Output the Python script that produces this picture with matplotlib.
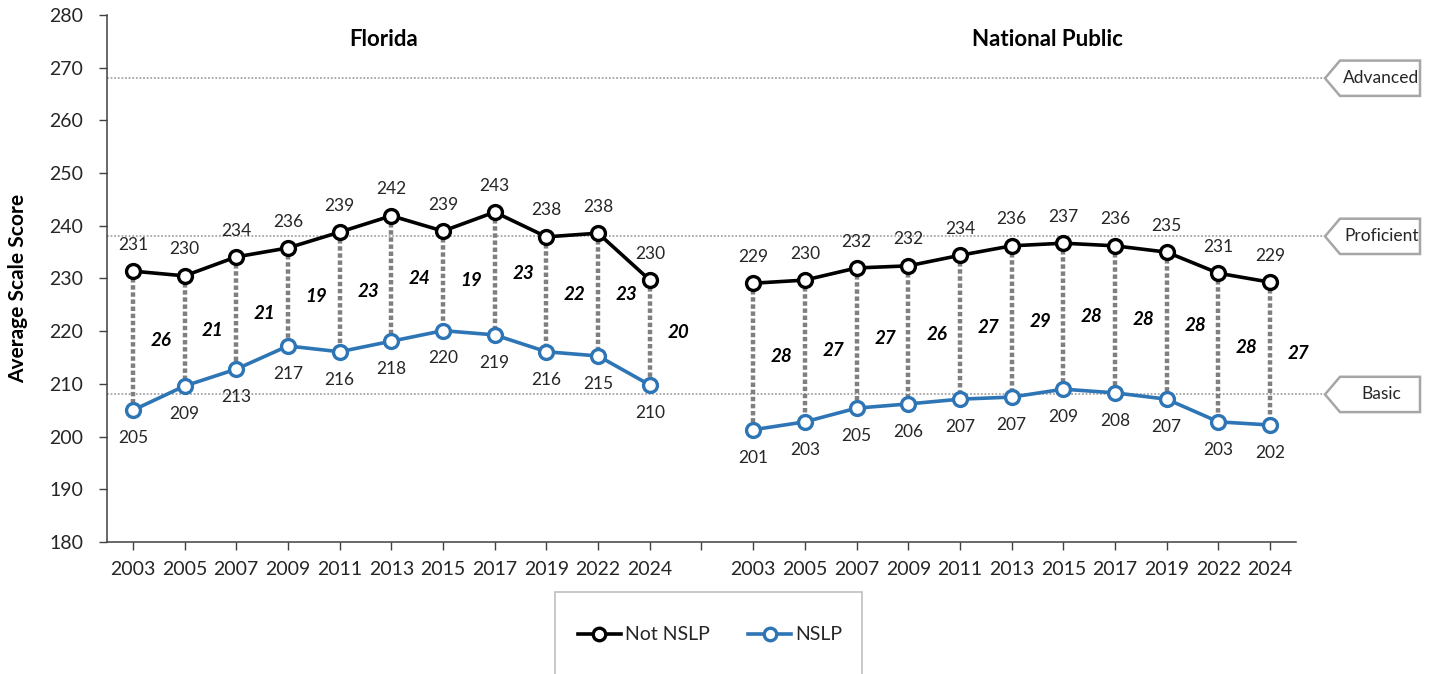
import matplotlib
matplotlib.use("Agg")
import matplotlib.pyplot as plt
from matplotlib.patches import Polygon, Rectangle
from matplotlib.lines import Line2D
import matplotlib.transforms as mtransforms

plt.rcParams['font.family'] = ['Lato', 'DejaVu Sans']

years = ["2003", "2005", "2007", "2009", "2011", "2013", "2015", "2017", "2019", "2022", "2024"]

fl_not_nslp = [231.4, 230.5, 234.1, 235.8, 238.8, 241.9, 239.0, 242.6, 237.9, 238.6, 229.7]
fl_nslp = [205.0, 209.6, 212.8, 217.2, 216.1, 218.1, 220.1, 219.3, 216.1, 215.3, 209.8]
fl_not_labels = [231, 230, 234, 236, 239, 242, 239, 243, 238, 238, 230]
fl_nslp_labels = [205, 209, 213, 217, 216, 218, 220, 219, 216, 215, 210]
fl_gaps = [26, 21, 21, 19, 23, 24, 19, 23, 22, 23, 20]

nat_not_nslp = [229.1, 229.7, 232.0, 232.4, 234.4, 236.2, 236.7, 236.2, 235.0, 231.0, 229.3]
nat_nslp = [201.3, 202.8, 205.4, 206.2, 207.1, 207.5, 209.0, 208.3, 207.1, 202.8, 202.2]
nat_not_labels = [229, 230, 232, 232, 234, 236, 237, 236, 235, 231, 229]
nat_nslp_labels = [201, 203, 205, 206, 207, 207, 209, 208, 207, 203, 202]
nat_gaps = [28, 27, 27, 26, 27, 29, 28, 28, 28, 28, 27]

panels = ["Florida", "National Public"]
levels = ["Advanced", "Proficient", "Basic"]
level_scores = [268, 238, 208]
yticks = [180, 190, 200, 210, 220, 230, 240, 250, 260, 270, 280]

BLACK = "#000000"
BLUE = "#2E75B6"
GRAY = "#7F7F7F"
TXT = "#262626"

W, H = 1430, 674
fig = plt.figure(figsize=(W / 100, H / 100), dpi=100)
ax = fig.add_axes([107 / W, 1 - 542 / H, (1296 - 107) / W, (542 - 15) / H])

ax.set_xlim(-0.5, 22.5)
ax.set_ylim(180, 280)

# reference level lines with callouts
trans_blend = mtransforms.blended_transform_factory(ax.transAxes, ax.transData)
for lev, sc in zip(levels, level_scores):
    ax.plot([0, 1.0244], [sc, sc], transform=trans_blend, color="#A6A6A6",
            linestyle=(0, (1, 1)), linewidth=1.3, clip_on=False, zorder=1)
    ymid = sc
    half = 3.35
    tip = 1.0244
    left = 1.0370
    right = 1.1043
    poly = Polygon([[tip, ymid], [left, ymid + half], [right, ymid + half],
                    [right, ymid - half], [left, ymid - half]], closed=True,
                   transform=trans_blend, facecolor="white", edgecolor="#A6A6A6",
                   linewidth=1.8, clip_on=False, zorder=3)
    ax.add_patch(poly)
    ax.text((left + right) / 2 + 0.001, ymid, lev, transform=trans_blend, ha="center",
            va="center", fontsize=12.5, color=TXT, zorder=4)

groups = [
    (0, fl_not_nslp, fl_nslp, fl_not_labels, fl_nslp_labels, fl_gaps),
    (12, nat_not_nslp, nat_nslp, nat_not_labels, nat_nslp_labels, nat_gaps),
]

for start, top, bot, tlab, blab, gaps in groups:
    xs = [start + i for i in range(len(years))]
    for x, a, b in zip(xs, top, bot):
        ax.plot([x, x], [a, b], color=GRAY, linestyle=(0, (1, 0.6)), linewidth=3.2,
                zorder=2, solid_capstyle="butt", dash_capstyle="butt")
    ax.plot(xs, top, color=BLACK, linewidth=2.6, marker="o", markersize=10,
            markerfacecolor="white", markeredgecolor=BLACK, markeredgewidth=2.4, zorder=5)
    ax.plot(xs, bot, color=BLUE, linewidth=2.6, marker="o", markersize=10,
            markerfacecolor="white", markeredgecolor=BLUE, markeredgewidth=2.4, zorder=5)
    for x, a, b, la, lb, g in zip(xs, top, bot, tlab, blab, gaps):
        ax.annotate(str(la), (x, a), xytext=(0, 19), textcoords="offset points",
                    ha="center", va="center", fontsize=12.5, color=TXT, zorder=6)
        ax.annotate(str(lb), (x, b), xytext=(0, -20), textcoords="offset points",
                    ha="center", va="center", fontsize=12.5, color=TXT, zorder=6)
        ax.text(x + 0.55, (a + b) / 2, str(g), ha="center", va="center",
                fontsize=13.5, fontweight="bold", fontstyle="italic", color=BLACK, zorder=6)

ax.text(4.85, 275.3, panels[0], ha="center", va="center", fontsize=16,
        fontweight="bold", color=BLACK)
ax.text(17.7, 275.3, panels[1], ha="center", va="center", fontsize=16,
        fontweight="bold", color=BLACK)

# axes styling
xt = list(range(23))
xl = years + [""] + years
ax.set_xticks(xt)
ax.set_xticklabels(xl, fontsize=14, color=TXT)
ax.set_yticks(yticks)
ax.set_yticklabels([str(v) for v in yticks], fontsize=14, color=TXT)
ax.tick_params(axis="x", length=6, width=1, color="#404040", pad=8)
ax.tick_params(axis="y", length=6, width=1, color="#404040", pad=11)
for s in ["top", "right"]:
    ax.spines[s].set_visible(False)
for s in ["left", "bottom"]:
    ax.spines[s].set_color("#404040")
    ax.spines[s].set_linewidth(1.1)

fig.text(18 / W, 1 - 288 / H, "Average Scale Score", rotation=90, ha="center",
         va="center", fontsize=15, fontweight="bold", color=BLACK)

# legend box
fig.patches.append(Rectangle((555 / W, -0.02), (862 - 555) / W, 0.02 + 1 - 592 / H,
                             transform=fig.transFigure, facecolor="white",
                             edgecolor="#BFBFBF", linewidth=1.2))
handles = [
    Line2D([], [], color=BLACK, linewidth=2.6, marker="o", markersize=9,
           markerfacecolor="white", markeredgecolor=BLACK, markeredgewidth=2.4),
    Line2D([], [], color=BLUE, linewidth=2.6, marker="o", markersize=9,
           markerfacecolor="white", markeredgecolor=BLUE, markeredgewidth=2.4),
]
fig.legend(handles, ["Not NSLP", "NSLP"], loc="center", ncol=2,
           bbox_to_anchor=(710 / W, 1 - 635 / H), frameon=False, fontsize=14,
           handlelength=2.2, handletextpad=0.2, columnspacing=2.0, labelcolor=TXT)

fig.savefig("out.png", dpi=100)
